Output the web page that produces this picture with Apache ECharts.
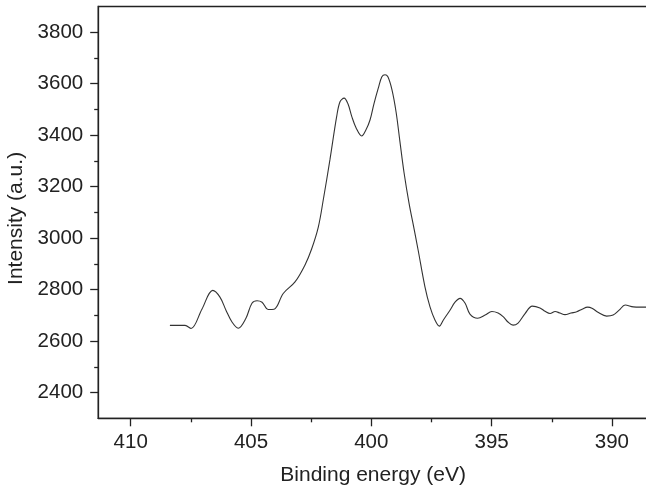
<!DOCTYPE html>
<html>
<head>
<meta charset="utf-8">
<script src="https://cdn.jsdelivr.net/npm/echarts@6/dist/echarts.min.js"></script>
<style>
html,body{margin:0;padding:0;background:#fff;}
#chart{width:646px;height:491px;}
</style>
</head>
<body>
<div id="chart"></div>
<script>
// Binding energy (eV) and intensity (a.u.)
const energy = [408.37, 407.74, 407.49, 407.04, 406.59, 406.29, 406.04, 405.79, 405.53, 405.21,
  404.96, 404.75, 404.54, 404.29, 404.04, 403.66, 403.17, 402.76, 402.48, 402.20,
  401.99, 401.72, 401.44, 401.30, 401.13, 400.97, 400.81, 400.63, 400.40, 400.22,
  400.05, 399.89, 399.71, 399.56, 399.43, 399.31, 399.14, 398.97, 398.81, 398.64,
  398.43, 398.22, 398.05, 397.77, 397.56, 397.35, 397.17, 397.01, 396.73, 396.52,
  396.31, 396.10, 395.90, 395.58, 395.27, 394.99, 394.73, 394.51, 394.32, 394.11,
  393.90, 393.61, 393.31, 392.99, 392.78, 392.57, 392.36, 392.16, 391.95, 391.70,
  391.46, 391.24, 391.01, 390.83, 390.58, 390.22, 389.95, 389.70, 389.45, 389.11,
  388.83, 388.58];
const intensity = [2661, 2661, 2649, 2724, 2797, 2771, 2720, 2674, 2650, 2689,
  2747, 2757, 2751, 2723, 2724, 2785, 2830, 2895, 2958, 3044,
  3152, 3304, 3472, 3530, 3544, 3522, 3472, 3428, 3397, 3421,
  3460, 3522, 3583, 3627, 3635, 3627, 3576, 3490, 3375, 3255,
  3135, 3035, 2952, 2811, 2733, 2681, 2658, 2681, 2720, 2751,
  2766, 2747, 2705, 2689, 2701, 2715, 2709, 2694, 2674, 2662,
  2670, 2707, 2736, 2729, 2716, 2707, 2715, 2709, 2703, 2709,
  2714, 2724, 2732, 2728, 2712, 2697, 2701, 2720, 2740, 2733,
  2732, 2732];
const xMajorTicks = [390, 395, 400, 405, 410];
const xMinorTicks = [392.5, 397.5, 402.5, 407.5];
const yMajorTicks = [2400, 2600, 2800, 3000, 3200, 3400, 3600, 3800];
const yMinorTicks = [2500, 2700, 2900, 3100, 3300, 3500, 3700];

const xName = 'Binding energy (eV)';
const yName = 'Intensity (a.u.)';

const FONT = 'Liberation Sans, Arial, Helvetica, sans-serif';
const INK = '#222';
const X_MIN = 388.5, X_MAX = 411.35, Y_MIN = 2300, Y_MAX = 3900;

const gridBox = {left: 98.2, top: 6.5, width: 549.8, height: 411.8, outerBoundsMode: 'none', containLabel: false};

const plain = v => String(Math.round(v));

const chart = echarts.init(document.getElementById('chart'), null, {renderer: 'canvas'});
chart.setOption({
  animation: false,
  backgroundColor: '#fff',
  grid: [
    Object.assign({show: true, borderColor: INK, borderWidth: 1.3, backgroundColor: 'transparent'}, gridBox),
    Object.assign({show: false}, gridBox)
  ],
  xAxis: [{
    type: 'value', gridIndex: 0, position: 'bottom', inverse: true,
    min: X_MIN, max: X_MAX,
    name: xName, nameLocation: 'middle', nameGap: 46,
    nameTextStyle: {fontFamily: FONT, fontSize: 21, color: INK},
    axisLine: {show: true, lineStyle: {color: INK, width: 1.3}},
    axisTick: {show: true, inside: false, length: 8, customValues: xMajorTicks, lineStyle: {color: INK, width: 1.3}},
    axisLabel: {show: true, customValues: xMajorTicks, formatter: plain, margin: 14, fontFamily: FONT, fontSize: 20.5, color: INK},
    splitLine: {show: false}
  }, {
    type: 'value', gridIndex: 1, position: 'bottom', inverse: true,
    min: X_MIN, max: X_MAX,
    axisLine: {show: false},
    axisTick: {show: true, inside: false, length: 4, customValues: xMinorTicks, lineStyle: {color: INK, width: 1.3}},
    axisLabel: {show: false},
    splitLine: {show: false}
  }],
  yAxis: [{
    type: 'value', gridIndex: 0, position: 'left',
    min: Y_MIN, max: Y_MAX,
    name: yName, nameLocation: 'middle', nameGap: 70,
    nameTextStyle: {fontFamily: FONT, fontSize: 21, color: INK, padding: [0, 12, 0, 0]},
    axisLine: {show: true, lineStyle: {color: INK, width: 1.3}},
    axisTick: {show: true, inside: false, length: 8, customValues: yMajorTicks, lineStyle: {color: INK, width: 1.3}},
    axisLabel: {show: true, customValues: yMajorTicks, formatter: plain, margin: 15, fontFamily: FONT, fontSize: 20.5, color: INK},
    splitLine: {show: false}
  }, {
    type: 'value', gridIndex: 1, position: 'left',
    min: Y_MIN, max: Y_MAX,
    axisLine: {show: false},
    axisTick: {show: true, inside: false, length: 4, customValues: yMinorTicks, lineStyle: {color: INK, width: 1.3}},
    axisLabel: {show: false},
    splitLine: {show: false}
  }],
  series: [{
    type: 'line',
    xAxisIndex: 0, yAxisIndex: 0,
    data: energy.map((e, i) => [e, intensity[i]]),
    showSymbol: false,
    smooth: 0.35,
    lineStyle: {color: '#333', width: 1.1},
    clip: true
  }]
});
</script>
</body>
</html>
